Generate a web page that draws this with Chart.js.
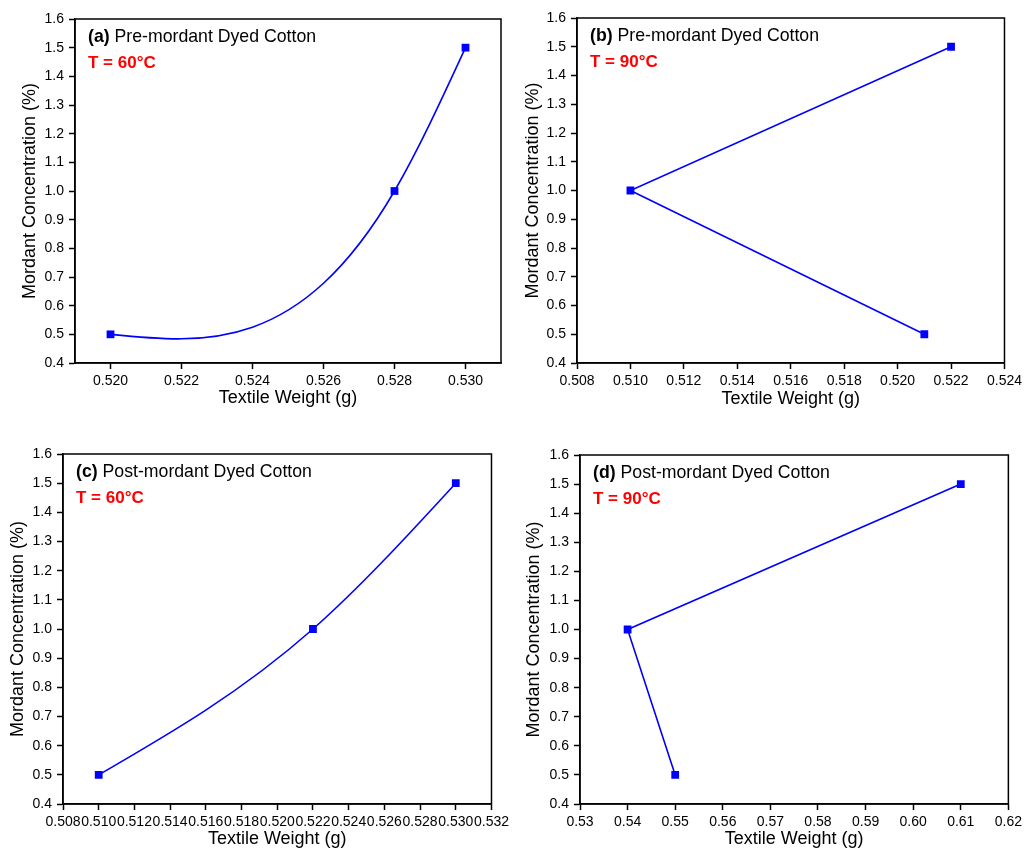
<!DOCTYPE html>
<html lang="en">
<head>
<meta charset="UTF-8">
<title>Mordant Concentration vs Textile Weight</title>
<script src="https://cdn.jsdelivr.net/npm/chart.js"></script>
<style>
    body {
        margin: 0;
        background: #fff;
    }
    .wrap {
        position: relative;
        width: 1026px;
        height: 850px;
        overflow: hidden;
    }
    .panel {
        position: absolute;
    }
</style>
</head>
<body>
<div class="wrap">
    <div class="panel" style="left:0;top:0"><canvas id="chartA" width="513" height="425"></canvas></div>
    <div class="panel" style="left:513px;top:0"><canvas id="chartB" width="513" height="425"></canvas></div>
    <div class="panel" style="left:0;top:425px"><canvas id="chartC" width="513" height="425"></canvas></div>
    <div class="panel" style="left:513px;top:425px"><canvas id="chartD" width="513" height="425"></canvas></div>
</div>

<script>
    // concentrations (same for every panel)
    const concentration = [0.5, 1.0, 1.5];

    // textile weights, in the order the line is drawn
    const weightA = [0.520, 0.528, 0.530];
    const weightB = [0.521, 0.510, 0.522];
    const weightC = [0.510, 0.522, 0.530];
    const weightD = [0.55, 0.54, 0.61];

    // tick values
    const yTicks = [0.4, 0.5, 0.6, 0.7, 0.8, 0.9, 1.0, 1.1, 1.2, 1.3, 1.4, 1.5, 1.6];
    const xTicksA = [0.520, 0.522, 0.524, 0.526, 0.528, 0.530];
    const xTicksB = [0.508, 0.510, 0.512, 0.514, 0.516, 0.518, 0.520, 0.522, 0.524];
    const xTicksC = [0.508, 0.510, 0.512, 0.514, 0.516, 0.518, 0.520, 0.522, 0.524, 0.526, 0.528, 0.530, 0.532];
    const xTicksD = [0.53, 0.54, 0.55, 0.56, 0.57, 0.58, 0.59, 0.60, 0.61, 0.62];

    const panelLabels = ['(a)', '(b)', '(c)', '(d)'];
    const panelTitles = ['Pre-mordant Dyed Cotton', 'Pre-mordant Dyed Cotton', 'Post-mordant Dyed Cotton', 'Post-mordant Dyed Cotton'];
    const temperatures = ['T = 60\u00B0C', 'T = 90\u00B0C', 'T = 60\u00B0C', 'T = 90\u00B0C'];

    const FONT = '"Liberation Sans", Arial, sans-serif';

    // layout per panel (not data)
    const panels = [
        { id: 'chartA', x: weightA, xTicks: xTicksA, xMin: 0.519, xMax: 0.531, dec: 3, smooth: true,
          pad: { top: 19, right: 12 }, yW: 75, xH: 62, yTitlePad: 19, xTitlePad: 16 },
        { id: 'chartB', x: weightB, xTicks: xTicksB, xMin: 0.508, xMax: 0.524, dec: 3, smooth: false,
          pad: { top: 18, right: 20 }, yW: 64, xH: 62, yTitlePad: 9, xTitlePad: 15 },
        { id: 'chartC', x: weightC, xTicks: xTicksC, xMin: 0.508, xMax: 0.532, dec: 3, smooth: true,
          pad: { top: 29, right: 15 }, yW: 63, xH: 46, yTitlePad: 7, xTitlePad: 0 },
        { id: 'chartD', x: weightD, xTicks: xTicksD, xMin: 0.53, xMax: 0.62, dec: 2, smooth: false,
          pad: { top: 30, right: 16 }, yW: 67, xH: 46, yTitlePad: 10, xTitlePad: 0 }
    ];

    // natural cubic spline slopes at each knot (x must be increasing)
    function splineSlopes(xs, ys) {
        const n = xs.length;
        const h = [], d = [];
        for (let i = 0; i < n - 1; i++) {
            h.push(xs[i + 1] - xs[i]);
            d.push((ys[i + 1] - ys[i]) / h[i]);
        }
        // second derivatives, M[0] = M[n-1] = 0
        const M = new Array(n).fill(0);
        if (n > 2) {
            const a = [], b = [], c = [], r = [];
            for (let i = 1; i < n - 1; i++) {
                a.push(h[i - 1]);
                b.push(2 * (h[i - 1] + h[i]));
                c.push(h[i]);
                r.push(6 * (d[i] - d[i - 1]));
            }
            const m = b.length;
            for (let i = 1; i < m; i++) {
                const w = a[i] / b[i - 1];
                b[i] -= w * c[i - 1];
                r[i] -= w * r[i - 1];
            }
            M[m] = r[m - 1] / b[m - 1];
            for (let i = m - 2; i >= 0; i--) {
                M[i + 1] = (r[i] - c[i] * M[i + 2]) / b[i];
            }
        }
        const s = [];
        for (let i = 0; i < n - 1; i++) {
            s.push(d[i] - h[i] * (2 * M[i] + M[i + 1]) / 6);
        }
        s.push(d[n - 2] + h[n - 2] * (M[n - 2] + 2 * M[n - 1]) / 6);
        return { s: s, h: h };
    }

    // replace Chart.js bezier control points with spline ones (like Origin's spline connect)
    const splinePlugin = {
        id: 'spline',
        beforeDatasetsDraw(chart, args, opts) {
            if (!opts.enabled) return;
            const meta = chart.getDatasetMeta(0);
            const line = meta.dataset;
            line.updateControlPoints(chart.chartArea, 'x');
            const raw = chart.data.datasets[0].data;
            const xs = raw.map(function (p) { return p.x; });
            const ys = raw.map(function (p) { return p.y; });
            const sp = splineSlopes(xs, ys);
            const sx = chart.scales.x, sy = chart.scales.y;
            const pts = meta.data;
            for (let i = 0; i < pts.length - 1; i++) {
                const hh = sp.h[i] / 3;
                pts[i].cp2x = sx.getPixelForValue(xs[i] + hh);
                pts[i].cp2y = sy.getPixelForValue(ys[i] + sp.s[i] * hh);
                pts[i + 1].cp1x = sx.getPixelForValue(xs[i + 1] - hh);
                pts[i + 1].cp1y = sy.getPixelForValue(ys[i + 1] - sp.s[i + 1] * hh);
            }
            line._path = undefined;
        }
    };

    // frame around plot area + panel captions
    const framePlugin = {
        id: 'frame',
        afterDraw(chart, args, opts) {
            const ctx = chart.ctx;
            const a = chart.chartArea;
            ctx.save();
            ctx.strokeStyle = '#000';
            ctx.lineWidth = 1.5;
            ctx.strokeRect(a.left, a.top, a.right - a.left, a.bottom - a.top);

            ctx.textBaseline = 'alphabetic';
            ctx.textAlign = 'left';
            ctx.fillStyle = '#000';
            ctx.font = 'bold 17.7px ' + FONT;
            const lx = a.left + 13;
            ctx.fillText(opts.label, lx, a.top + 23);
            const w = ctx.measureText(opts.label + ' ').width;
            ctx.font = '17.7px ' + FONT;
            ctx.fillText(opts.title, lx + w, a.top + 23);

            ctx.fillStyle = '#ff0000';
            ctx.font = 'bold 17px ' + FONT;
            ctx.fillText(opts.temp, lx, a.top + 49);
            ctx.restore();
        }
    };

    panels.forEach(function (p, i) {
        const points = p.x.map(function (v, k) { return { x: v, y: concentration[k] }; });

        new Chart(document.getElementById(p.id), {
            type: 'line',
            data: {
                datasets: [{
                    data: points,
                    borderColor: '#0000ff',
                    backgroundColor: '#0000ff',
                    borderWidth: 1.6,
                    pointStyle: 'rect',
                    pointRadius: 5.5,
                    pointBorderWidth: 0,
                    tension: p.smooth ? 0.4 : 0,
                    fill: false
                }]
            },
            options: {
                responsive: false,
                animation: false,
                layout: { padding: { top: p.pad.top, right: p.pad.right, left: 0, bottom: 0 } },
                plugins: {
                    legend: { display: false },
                    tooltip: { enabled: false },
                    spline: { enabled: p.smooth },
                    frame: { label: panelLabels[i], title: panelTitles[i], temp: temperatures[i] }
                },
                scales: {
                    x: {
                        type: 'linear',
                        min: p.xMin,
                        max: p.xMax,
                        afterBuildTicks: function (scale) {
                            scale.ticks = p.xTicks.map(function (v) { return { value: v }; });
                        },
                        afterFit: function (scale) { scale.height = p.xH; },
                        ticks: {
                            autoSkip: false,
                            maxRotation: 0,
                            padding: 4,
                            color: '#000',
                            font: { family: FONT, size: 14 },
                            callback: function (v) { return Number(v).toFixed(p.dec); }
                        },
                        grid: { drawOnChartArea: false, tickLength: 6, tickColor: '#000', tickWidth: 1.5 },
                        border: { color: '#000', width: 1.5 },
                        title: {
                            display: true,
                            text: 'Textile Weight (g)',
                            color: '#000',
                            font: { family: FONT, size: 18 },
                            padding: { top: 0, bottom: p.xTitlePad }
                        }
                    },
                    y: {
                        min: 0.4,
                        max: 1.6,
                        afterBuildTicks: function (scale) {
                            scale.ticks = yTicks.map(function (v) { return { value: v }; });
                        },
                        afterFit: function (scale) { scale.width = p.yW; },
                        ticks: {
                            autoSkip: false,
                            padding: 5,
                            color: '#000',
                            font: { family: FONT, size: 14 },
                            callback: function (v) { return Number(v).toFixed(1); }
                        },
                        grid: { drawOnChartArea: false, tickLength: 6, tickColor: '#000', tickWidth: 1.5 },
                        border: { color: '#000', width: 1.5 },
                        title: {
                            display: true,
                            text: 'Mordant Concentration (%)',
                            color: '#000',
                            font: { family: FONT, size: 18 },
                            padding: { top: p.yTitlePad, bottom: 0 }
                        }
                    }
                }
            },
            plugins: [splinePlugin, framePlugin]
        });
    });
</script>
</body>
</html>
